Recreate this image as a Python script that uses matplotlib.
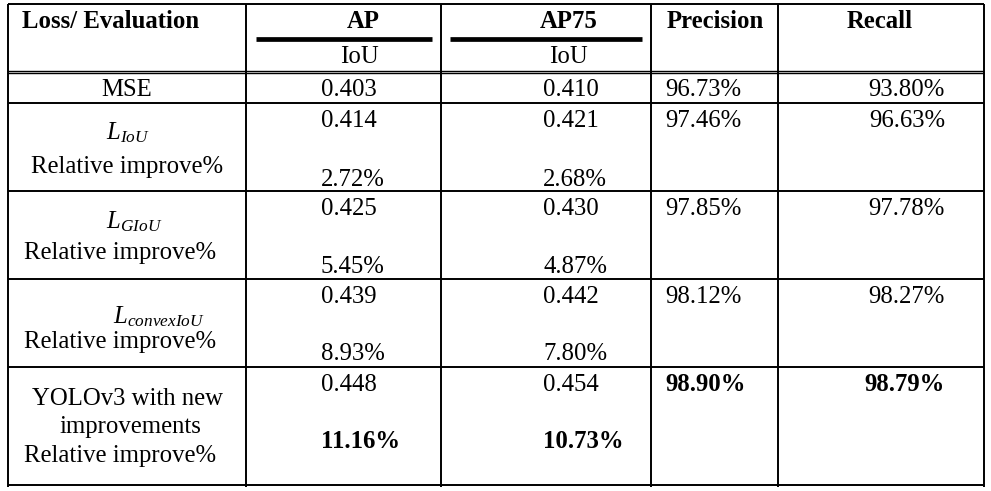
import matplotlib
matplotlib.use("Agg")
import matplotlib.pyplot as plt

# --- table contents -------------------------------------------------------
methods = ["MSE", r"$L_{IoU}$", r"$L_{GIoU}$", r"$L_{convexIoU}$",
           "YOLOv3 with new\nimprovements"]
ap = [0.403, 0.414, 0.425, 0.439, 0.448]
ap_rel = [None, 2.72, 5.45, 8.93, 11.16]
ap75 = [0.410, 0.421, 0.430, 0.442, 0.454]
ap75_rel = [None, 2.68, 4.87, 7.80, 10.73]
precision = [96.73, 97.46, 97.85, 98.12, 98.90]
recall = [93.80, 96.63, 97.78, 98.27, 98.79]
headers = ["Loss/ Evaluation", "AP", "AP75", "Precision", "Recall"]
sub_header = "IoU"
rel_label = "Relative improve%"
best_row = 4  # bold row

# --- layout (pixel space) -------------------------------------------------
col_edges = [8, 246, 440.5, 651, 777.5, 983.5]
row_edges = [4, 102.5, 190.7, 279, 367, 484.5]   # 72 is the double rule
double_rule = (70.6, 73.4)
first_base = [96, 127, 215, 303, 391]            # baseline of first line
second_base = [None, 186, 273, 360, 448]          # baseline of rel. line

FONT = "Liberation Serif"
FS = 17.8
plt.rcParams["font.family"] = [FONT, "DejaVu Serif"]
plt.rcParams["mathtext.fontset"] = "custom"
plt.rcParams["mathtext.rm"] = FONT
plt.rcParams["mathtext.it"] = FONT + ":italic"
plt.rcParams["mathtext.bf"] = FONT + ":bold"

fig = plt.figure(figsize=(9.91, 4.91), dpi=100)
ax = fig.add_axes([0, 0, 1, 1])
ax.set_xlim(0, 991)
ax.set_ylim(491, 0)
ax.axis("off")

lw = 1.4
# vertical rules
for x in col_edges:
    ax.plot([x, x], [row_edges[0], row_edges[-1] + 2], color="black", lw=lw,
            solid_capstyle="butt")
# horizontal rules
for y in row_edges:
    ax.plot([col_edges[0], col_edges[-1]], [y, y], color="black", lw=lw,
            solid_capstyle="butt")
for y in double_rule:
    ax.plot([col_edges[0], col_edges[-1]], [y, y], color="black", lw=1.0,
            solid_capstyle="butt")
# thick bars under AP / AP75
ax.plot([256, 432], [38.5, 38.5], color="black", lw=3.4, solid_capstyle="butt")
ax.plot([450, 642], [38.5, 38.5], color="black", lw=3.4, solid_capstyle="butt")

txt = dict(fontsize=FS, color="black", va="baseline")

# header
ax.text(22, 27.5, headers[0], ha="left", fontweight="bold", **txt)
ax.text(363, 27.5, headers[1], ha="center", fontweight="bold", **txt)
ax.text(569, 27.5, headers[2], ha="center", fontweight="bold", **txt)
ax.text(715, 27.5, headers[3], ha="center", fontweight="bold", **txt)
ax.text(880, 27.5, headers[4], ha="center", fontweight="bold", **txt)
ax.text(359, 63, sub_header, ha="center", **txt)
ax.text(568, 63, sub_header, ha="center", **txt)

# first column
ax.text(127, first_base[0], methods[0], ha="center", **txt)
ax.text(106, 139, methods[1], ha="left", **txt)
ax.text(127.5, 173, rel_label, ha="center", **txt)
ax.text(106, 228, methods[2], ha="left", **txt)
ax.text(120, 259, rel_label, ha="center", **txt)
ax.text(113, 323, methods[3], ha="left", **txt)
ax.text(120, 348, rel_label, ha="center", **txt)
ax.text(127, 405, methods[4].split("\n")[0], ha="center", **txt)
ax.text(130, 433, methods[4].split("\n")[1], ha="center", **txt)
ax.text(120, 462, rel_label, ha="center", **txt)

# numeric columns
for i in range(len(ap)):
    bold = "bold" if i == best_row else "normal"
    ax.text(321, first_base[i], f"{ap[i]:.3f}", ha="left", **txt)
    ax.text(543, first_base[i], f"{ap75[i]:.3f}", ha="left", **txt)
    ax.text(665, first_base[i], f"{precision[i]:.2f}%", ha="left",
            fontweight=bold, **txt)
    ax.text(945, first_base[i], f"{recall[i]:.2f}%", ha="right",
            fontweight=bold, **txt)
    if ap_rel[i] is not None:
        ax.text(321, second_base[i], f"{ap_rel[i]:.2f}%", ha="left",
                fontweight=bold, **txt)
        ax.text(543, second_base[i], f"{ap75_rel[i]:.2f}%", ha="left",
                fontweight=bold, **txt)

fig.savefig("out.png", dpi=100, facecolor="white")
